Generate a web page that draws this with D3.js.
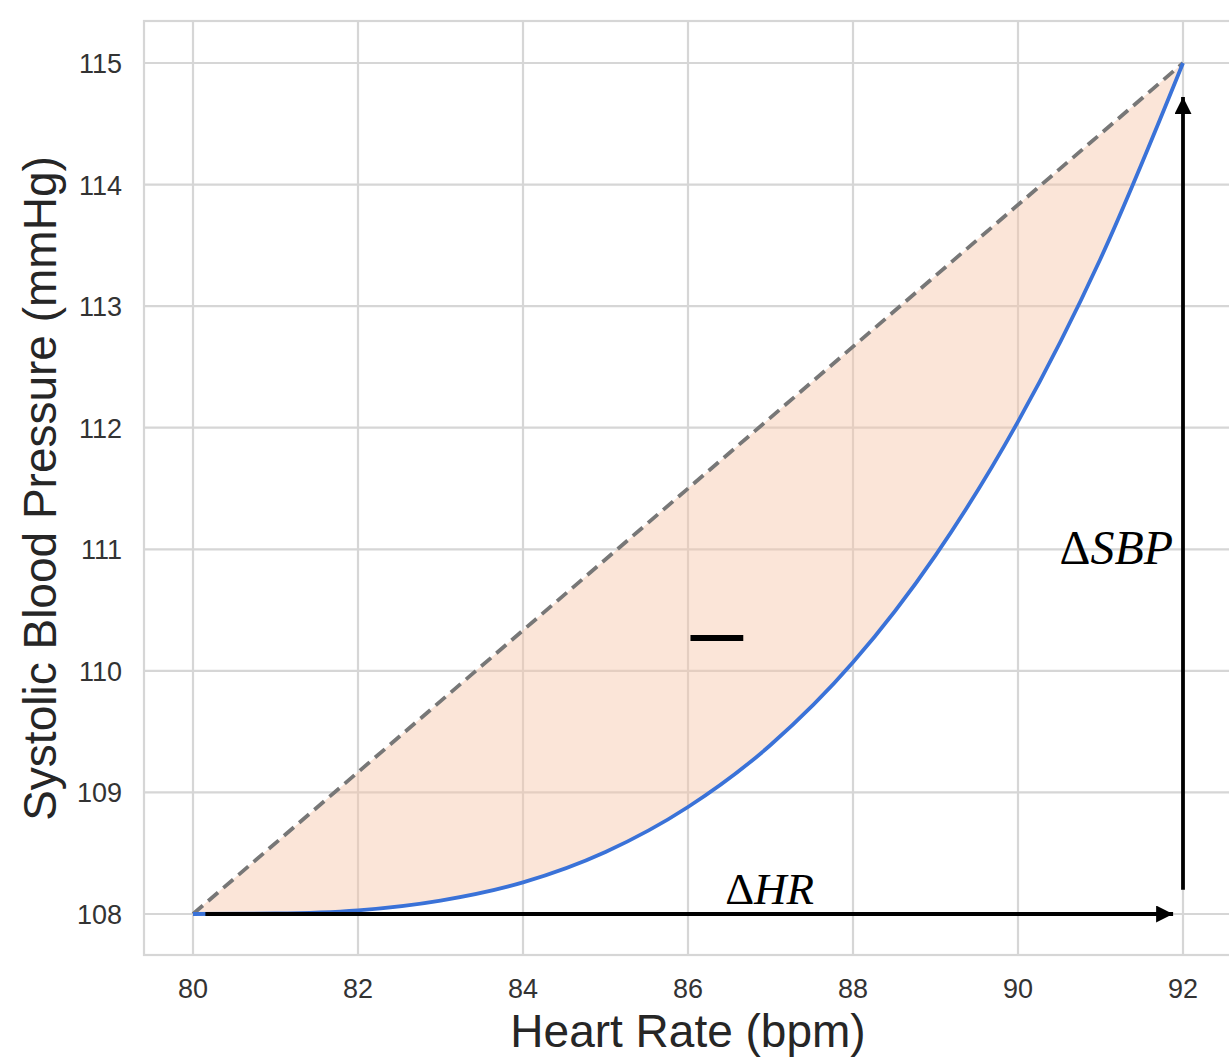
<!DOCTYPE html>
<html>
<head>
<meta charset="utf-8">
<script src="https://cdn.jsdelivr.net/npm/d3@7"></script>
<style>
  body { margin: 0; background: #fff; }
  svg { display: block; }
</style>
</head>
<body>
<svg id="chart" width="1229" height="1059"></svg>
<script>

// heart rate (bpm) and systolic blood pressure
var heartRate = [80, 81, 82, 83, 84, 85, 86, 87, 88, 89, 90, 91, 92];
var sbpCurve  = [108, 108.004, 108.03, 108.11, 108.26, 108.51, 108.88, 109.39, 110.07, 110.95, 112.05, 113.39, 115];
// straight chord between the two end points
var chordHR  = [80, 92];
var chordSBP = [108, 115];
var xTicks = [80, 82, 84, 86, 88, 90, 92];
var yTicks = [108, 109, 110, 111, 112, 113, 114, 115];

var svg = d3.select('#chart');

var frame = { left: 144, top: 21, right: 1232, bottom: 955 };

var x = d3.scaleLinear().domain([80, 92]).range([193, 1183]);
var y = d3.scaleLinear().domain([108, 115]).range([914, 63]);
var chord = d3.scaleLinear().domain(chordHR).range(chordSBP);

var curveData = heartRate.map(function (d, i) { return { hr: d, sbp: sbpCurve[i] }; });

// frame + grid
svg.append('rect')
    .attr('x', frame.left).attr('y', frame.top)
    .attr('width', frame.right - frame.left).attr('height', frame.bottom - frame.top)
    .style('fill', '#fff').style('stroke', '#d6d6d6').style('stroke-width', 2.2);

svg.selectAll('.vgrid')
    .data(xTicks)
  .enter().append('line')
    .attr('class', 'vgrid')
    .attr('x1', function (d) { return x(d); }).attr('x2', function (d) { return x(d); })
    .attr('y1', frame.top).attr('y2', frame.bottom)
    .style('stroke', '#d6d6d6').style('stroke-width', 2.2);

svg.selectAll('.hgrid')
    .data(yTicks)
  .enter().append('line')
    .attr('class', 'hgrid')
    .attr('x1', frame.left).attr('x2', frame.right)
    .attr('y1', function (d) { return y(d); }).attr('y2', function (d) { return y(d); })
    .style('stroke', '#d6d6d6').style('stroke-width', 2.2);

// shaded region between chord and curve
var area = d3.area()
    .x(function (d) { return x(d.hr); })
    .y0(function (d) { return y(chord(d.hr)); })
    .y1(function (d) { return y(d.sbp); })
    .curve(d3.curveMonotoneX);

svg.append('path')
    .datum(curveData)
    .attr('d', area)
    .style('fill', '#f7c5a8')
    .style('fill-opacity', 0.45);

// dashed chord
svg.append('line')
    .attr('x1', x(chordHR[0])).attr('y1', y(chordSBP[0]))
    .attr('x2', x(chordHR[1])).attr('y2', y(chordSBP[1]))
    .style('stroke', '#777').style('stroke-width', 3.8)
    .style('stroke-dasharray', '13,7');

// blue curve
var line = d3.line()
    .x(function (d) { return x(d.hr); })
    .y(function (d) { return y(d.sbp); })
    .curve(d3.curveMonotoneX);

svg.append('path')
    .datum(curveData)
    .attr('d', line)
    .style('fill', 'none')
    .style('stroke', '#3a72d8')
    .style('stroke-width', 3.8);

// arrows
var defs = svg.append('defs');
defs.append('marker')
    .attr('id', 'arrow')
    .attr('viewBox', '0 0 10 10')
    .attr('refX', 10).attr('refY', 5)
    .attr('markerUnits', 'userSpaceOnUse')
    .attr('markerWidth', 17).attr('markerHeight', 17)
    .attr('orient', 'auto')
  .append('path')
    .attr('d', 'M0,0 L10,5 L0,10 Z')
    .style('fill', '#000');

svg.append('line')
    .attr('x1', x(80.15)).attr('y1', y(108))
    .attr('x2', x(91.88)).attr('y2', y(108))
    .style('stroke', '#000').style('stroke-width', 3.8)
    .attr('marker-end', 'url(#arrow)');

svg.append('line')
    .attr('x1', x(92)).attr('y1', y(108.2))
    .attr('x2', x(92)).attr('y2', y(114.72))
    .style('stroke', '#000').style('stroke-width', 3.8)
    .attr('marker-end', 'url(#arrow)');

// annotations
var mathFont = '"Liberation Serif", "DejaVu Serif", serif';

var hrLabel = svg.append('text')
    .attr('x', x(86.45)).attr('y', y(108.08))
    .style('font-family', mathFont).style('font-size', '45px');
hrLabel.append('tspan').text('Δ');
hrLabel.append('tspan').style('font-style', 'italic').text('HR');

var sbpLabel = svg.append('text')
    .attr('x', x(91.88)).attr('y', y(110.88))
    .style('text-anchor', 'end')
    .style('font-family', mathFont).style('font-size', '48px');
sbpLabel.append('tspan').text('Δ');
sbpLabel.append('tspan').style('font-style', 'italic').text('SBP');

svg.append('line')
    .attr('x1', x(86.03)).attr('x2', x(86.67))
    .attr('y1', y(110.27)).attr('y2', y(110.27))
    .style('stroke', '#000').style('stroke-width', 6);

// tick labels
var tickFont = '"Liberation Sans", Arial, sans-serif';

svg.selectAll('.x-tick')
    .data(xTicks)
  .enter().append('text')
    .attr('class', 'x-tick')
    .attr('x', function (d) { return x(d); })
    .attr('y', 998)
    .style('text-anchor', 'middle')
    .style('font-family', tickFont).style('font-size', '27px').style('fill', '#333')
    .text(function (d) { return d; });

svg.selectAll('.y-tick')
    .data(yTicks)
  .enter().append('text')
    .attr('class', 'y-tick')
    .attr('x', 122)
    .attr('y', function (d) { return y(d) + 10; })
    .style('text-anchor', 'end')
    .style('font-family', tickFont).style('font-size', '27px').style('fill', '#333')
    .text(function (d) { return d; });

// axis titles
svg.append('text')
    .attr('x', x(86)).attr('y', 1047)
    .style('text-anchor', 'middle')
    .style('font-family', tickFont).style('font-size', '46px').style('fill', '#262626')
    .text('Heart Rate (bpm)');

svg.append('text')
    .attr('transform', 'translate(56,' + y(111.5) + ') rotate(-90)')
    .style('text-anchor', 'middle')
    .style('font-family', tickFont).style('font-size', '46px').style('fill', '#262626')
    .text('Systolic Blood Pressure (mmHg)');

</script>
</body>
</html>
